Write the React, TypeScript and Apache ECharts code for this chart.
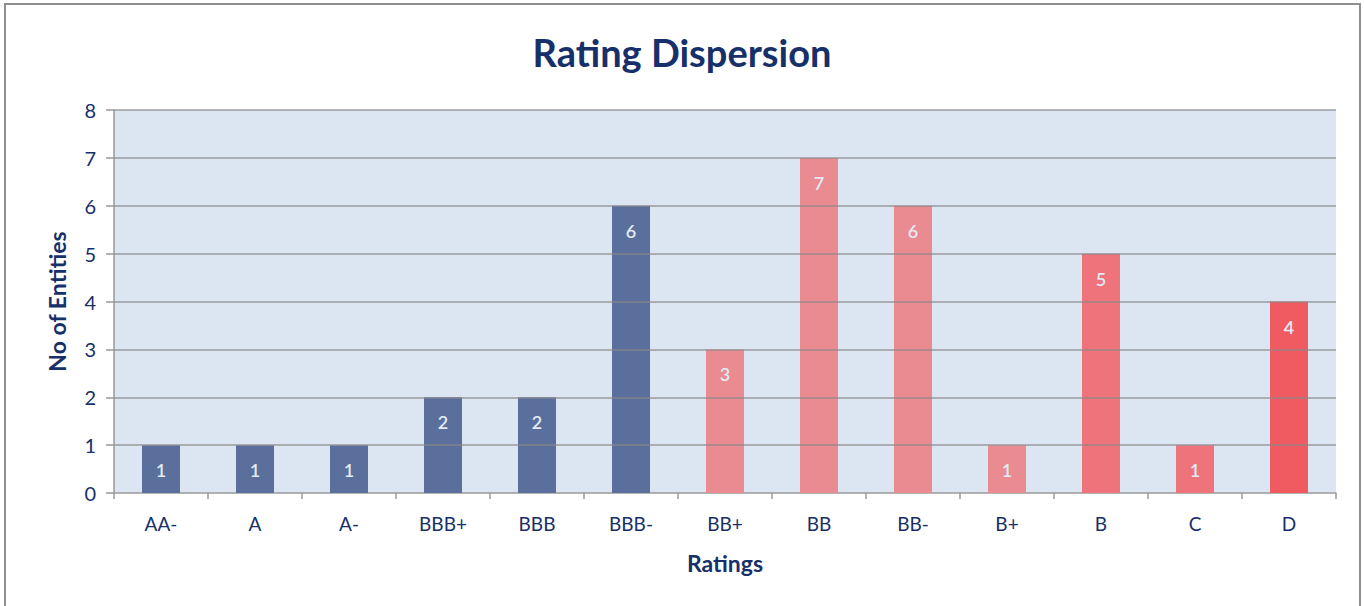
import React, { useEffect, useRef } from "react";
import * as echarts from "echarts";

const categories = ["AA-", "A", "A-", "BBB+", "BBB", "BBB-", "BB+", "BB", "BB-", "B+", "B", "C", "D"];
const values = [1, 1, 1, 2, 2, 6, 3, 7, 6, 1, 5, 1, 4];
const barColors = [
  "#5a6f9b", "#5a6f9b", "#5a6f9b", "#5a6f9b", "#5a6f9b", "#5a6f9b",
  "#e98b91", "#e98b91", "#e98b91", "#e98b91", "#ee737a", "#ee737a", "#ef5b61",
];
const yTicks = [1, 2, 3, 4, 5, 6, 7, 8];
const title = "Rating Dispersion";
const xName = "Ratings";
const yName = "No of Entities";

const FONT = "Lato, 'Open Sans', sans-serif";
const NAVY = "#17306a";

export default function App() {
  const ref = useRef<HTMLDivElement>(null);
  useEffect(() => {
    if (!ref.current) return;
    const chart = echarts.init(ref.current, undefined, { renderer: "svg" });
    chart.setOption({
      animation: false,
      backgroundColor: "#ffffff",
      title: {
        text: title,
        left: "center",
        top: 28,
        textStyle: { fontFamily: FONT, fontSize: 38, fontWeight: "bold", color: NAVY },
      },
      graphic: [
        {
          type: "rect",
          shape: { x: 5, y: 4, width: 1355, height: 610 },
          style: { fill: "none", stroke: "#8f8f8f", lineWidth: 2 },
          silent: true,
        },
      ],
      grid: { left: 114, right: 28, top: 110, bottom: 113, show: true, backgroundColor: "#dce6f2", borderWidth: 0 },
      xAxis: {
        type: "category",
        data: categories,
        name: xName,
        nameLocation: "middle",
        nameGap: 58,
        nameTextStyle: { fontFamily: FONT, fontSize: 23, fontWeight: "bold", color: NAVY },
        axisLine: { show: true, lineStyle: { color: "#9a9a9a", width: 1.5 } },
        axisTick: { show: true, length: 6, lineStyle: { color: "#9a9a9a", width: 1.5 } },
        axisLabel: { fontFamily: FONT, fontSize: 19, color: NAVY, margin: 21 },
      },
      yAxis: {
        type: "value",
        min: 0,
        max: 8,
        interval: 1,
        name: yName,
        nameLocation: "middle",
        nameGap: 46,
        nameTextStyle: { fontFamily: FONT, fontSize: 23, fontWeight: "bold", color: NAVY },
        axisLine: { show: true, lineStyle: { color: "#9a9a9a", width: 1.5 } },
        axisTick: { show: true, length: 8, lineStyle: { color: "#9a9a9a", width: 1.5 } },
        splitLine: { show: false },
        axisLabel: { fontFamily: FONT, fontSize: 20, color: NAVY, margin: 18 },
      },
      series: [
        {
          type: "bar",
          barWidth: 38,
          data: values.map((v, i) => ({ value: v, itemStyle: { color: barColors[i] } })),
          label: {
            show: true,
            position: "insideTop",
            distance: 16,
            fontFamily: FONT,
            fontSize: 18,
            fontWeight: 600,
            color: "#e4ebf5",
          },
          z: 2,
        },
        {
          type: "line",
          data: [],
          z: 5,
          markLine: {
            silent: true,
            symbol: "none",
            label: { show: false },
            lineStyle: { color: "#8a8a8a", width: 1.5, type: "solid", opacity: 0.8 },
            data: yTicks.map((t) => ({ yAxis: t })),
          },
        },
      ],
    });
    return () => chart.dispose();
  }, []);
  return (
    <div
      ref={ref}
      style={{ position: "absolute", left: 0, top: 0, width: 1364, height: 606 }}
    />
  );
}
